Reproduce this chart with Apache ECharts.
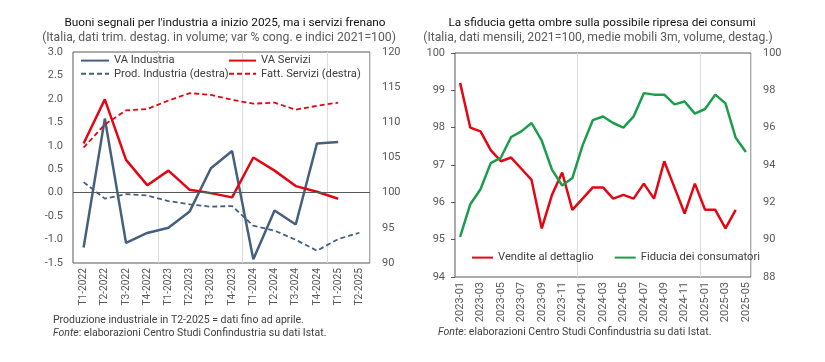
<!DOCTYPE html>
<html>
<head>
<meta charset="utf-8">
<script src="https://cdn.jsdelivr.net/npm/echarts@6/dist/echarts.min.js"></script>
<style>
html,body{margin:0;padding:0;background:#fff;}
#c{width:825px;height:362px;}
</style>
</head>
<body>
<div id="c"></div>
<script>
// ---- Left chart data ----
var quarters = ['T1-2022','T2-2022','T3-2022','T4-2022','T1-2023','T2-2023','T3-2023','T4-2023','T1-2024','T2-2024','T3-2024','T4-2024','T1-2025','T2-2025'];
var vaIndustria = [-1.17, 1.58, -1.07, -0.86, -0.75, -0.40, 0.52, 0.89, -1.42, -0.38, -0.68, 1.05, 1.08, null];
var vaServizi = [1.05, 1.99, 0.70, 0.16, 0.47, 0.06, -0.01, -0.10, 0.75, 0.47, 0.14, 0.02, -0.13, null];
var prodIndustria = [101.5, 99.15, 99.8, 99.6, 98.8, 98.35, 98.0, 98.1, 95.3, 94.6, 93.3, 91.75, 93.4, 94.3];
var fattServizi = [106.4, 109.7, 111.7, 111.9, 113.1, 114.15, 113.9, 113.2, 112.65, 112.8, 111.8, 112.35, 112.8, null];

// ---- Right chart data ----
var months = ['2023-01','2023-02','2023-03','2023-04','2023-05','2023-06','2023-07','2023-08','2023-09','2023-10','2023-11','2023-12',
              '2024-01','2024-02','2024-03','2024-04','2024-05','2024-06','2024-07','2024-08','2024-09','2024-10','2024-11','2024-12',
              '2025-01','2025-02','2025-03','2025-04','2025-05'];
var vendite = [99.2, 98.0, 97.9, 97.4, 97.1, 97.2, 96.9, 96.6, 95.3, 96.2, 96.8, 95.8,
               96.1, 96.4, 96.4, 96.1, 96.2, 96.1, 96.5, 96.1, 97.1, 96.4, 95.7, 96.5,
               95.8, 95.8, 95.3, 95.8, null];
var fiducia = [90.15, 91.9, 92.7, 94.1, 94.4, 95.5, 95.8, 96.25, 95.3, 93.75, 92.9, 93.3,
               95.05, 96.4, 96.6, 96.25, 96.0, 96.6, 97.85, 97.77, 97.77, 97.25, 97.4, 96.75,
               97.0, 97.77, 97.3, 95.46, 94.7];

var BLUE = '#45607E', RED = '#E30613', GREEN = '#1B9E4B';
var FONT = 'Roboto';
var AX = '#595959';

var chart = echarts.init(document.getElementById('c'), null, {renderer: 'canvas'});

function yAx(gi, min, max, interval, pos, dec, ticks) {
  return {
    type: 'value', gridIndex: gi, position: pos, min: min, max: max, interval: interval,
    axisLine: {show: false},
    axisTick: {show: ticks, length: 4, lineStyle: {color: AX}},
    splitLine: {show: false},
    axisLabel: {color: AX, fontFamily: FONT, fontSize: 11, margin: pos === 'left' ? 10 : 12,
      formatter: function (v) { return dec ? v.toFixed(1) : String(v); }}
  };
}

var titleStyle = {fontFamily: FONT, fontSize: 11.8, fontWeight: 'normal', color: '#111'};
var subStyle = {fontFamily: FONT, fontSize: 12.2, fontWeight: 'normal', color: '#595959'};
var noteStyle = {fontFamily: FONT, fontSize: 10.5, fontWeight: 'normal', color: '#404040', lineHeight: 13,
  rich: {i: {fontStyle: 'italic', fontFamily: FONT, fontSize: 10.5, color: '#404040', lineHeight: 13}}};
var legText = {fontFamily: FONT, fontSize: 11.2, color: '#404040'};

var option = {
  animation: false,
  textStyle: {fontFamily: FONT},
  title: [
    {text: "Buoni segnali per l'industria a inizio 2025, ma i servizi frenano", left: 225, textAlign: 'center', top: 17, padding: 0,
     textStyle: titleStyle},
    {text: '(Italia, dati trim. destag. in volume; var % cong. e indici 2021=100)', left: 219, textAlign: 'center', top: 32, padding: 0,
     textStyle: subStyle},
    {text: 'La sfiducia getta ombre sulla possibile ripresa dei consumi', left: 602, textAlign: 'center', top: 17, padding: 0,
     textStyle: titleStyle},
    {text: '(Italia, dati mensili, 2021=100, medie mobili 3m, volume, destag.)', left: 598, textAlign: 'center', top: 32, padding: 0,
     textStyle: subStyle},
    {text: 'Produzione industriale in T2-2025 = dati fino ad aprile.\n{i|Fonte}: elaborazioni Centro Studi Confindustria su dati Istat.', left: 53, top: 314, padding: 0,
     textStyle: noteStyle},
    {text: '{i|Fonte}: elaborazioni Centro Studi Confindustria su dati Istat.', left: 438, top: 326, padding: 0,
     textStyle: noteStyle}
  ],
  legend: [
    {data: ['VA Industria', 'Prod. Industria (destra)'], orient: 'vertical', left: 80, top: 55, itemGap: 2, padding: [0, 0, 0, 0],
     itemWidth: 28, itemHeight: 14, itemStyle: {opacity: 0}, textStyle: legText},
    {data: ['VA Servizi', 'Fatt. Servizi (destra)'], orient: 'vertical', left: 228, top: 55, itemGap: 2, padding: [0, 0, 0, 0],
     itemWidth: 27, itemHeight: 14, itemStyle: {opacity: 0}, textStyle: legText},
    {data: ['Vendite al dettaglio', 'Fiducia dei consumatori'], orient: 'horizontal', left: 471, top: 252, itemGap: 20, padding: [0, 0, 0, 0],
     itemWidth: 21, itemHeight: 14, itemStyle: {opacity: 0}, textStyle: legText}
  ],
  grid: [
    {left: 73, right: 455, top: 52, bottom: 99, show: true, borderColor: AX, borderWidth: 1, backgroundColor: 'transparent'},
    {left: 455, right: 74, top: 53, bottom: 85, show: true, borderColor: AX, borderWidth: 1, backgroundColor: 'transparent'}
  ],
  xAxis: [
    {type: 'category', gridIndex: 0, data: quarters, boundaryGap: true,
     axisLine: {show: false}, axisTick: {show: false},
     splitLine: {show: true, interval: function (i) { return i > 0 && i % 4 === 0; }, lineStyle: {color: '#dcdcdc', width: 1}},
     axisLabel: {rotate: 90, interval: 0, color: AX, fontFamily: FONT, fontSize: 10.2, margin: 5}},
    {type: 'category', gridIndex: 1, data: months, boundaryGap: true,
     axisLine: {show: false}, axisTick: {show: false},
     splitLine: {show: true, interval: function (i) { return i > 0 && i % 12 === 0; }, lineStyle: {color: '#dcdcdc', width: 1}},
     axisLabel: {rotate: 90, interval: 1, color: AX, fontFamily: FONT, fontSize: 11, margin: 5}}
  ],
  yAxis: [
    yAx(0, -1.5, 3, 0.5, 'left', true, false),
    yAx(0, 90, 120, 5, 'right', false, false),
    yAx(1, 94, 100, 1, 'left', false, true),
    yAx(1, 88, 100, 2, 'right', false, false)
  ],
  series: [
    {name: 'VA Industria', type: 'line', xAxisIndex: 0, yAxisIndex: 0, data: vaIndustria, symbol: 'none',
     lineStyle: {color: BLUE, width: 2.5}, itemStyle: {color: BLUE},
     markLine: {silent: true, symbol: 'none', label: {show: false}, data: [{yAxis: 0}],
       lineStyle: {color: AX, type: 'solid', width: 1}}},
    {name: 'VA Servizi', type: 'line', xAxisIndex: 0, yAxisIndex: 0, data: vaServizi, symbol: 'none', z: 3,
     lineStyle: {color: RED, width: 2.5}, itemStyle: {color: RED}},
    {name: 'Prod. Industria (destra)', type: 'line', xAxisIndex: 0, yAxisIndex: 1, data: prodIndustria, symbol: 'none',
     lineStyle: {color: BLUE, width: 1.8, type: [5, 3]}, itemStyle: {color: BLUE}},
    {name: 'Fatt. Servizi (destra)', type: 'line', xAxisIndex: 0, yAxisIndex: 1, data: fattServizi, symbol: 'none',
     lineStyle: {color: RED, width: 1.8, type: [5, 3]}, itemStyle: {color: RED}},
    {name: 'Vendite al dettaglio', type: 'line', xAxisIndex: 1, yAxisIndex: 2, data: vendite, symbol: 'none',
     lineStyle: {color: RED, width: 2.5}, itemStyle: {color: RED}},
    {name: 'Fiducia dei consumatori', type: 'line', xAxisIndex: 1, yAxisIndex: 3, data: fiducia, symbol: 'none',
     lineStyle: {color: GREEN, width: 2.5}, itemStyle: {color: GREEN}}
  ]
};
chart.setOption(option);
</script>
</body>
</html>
